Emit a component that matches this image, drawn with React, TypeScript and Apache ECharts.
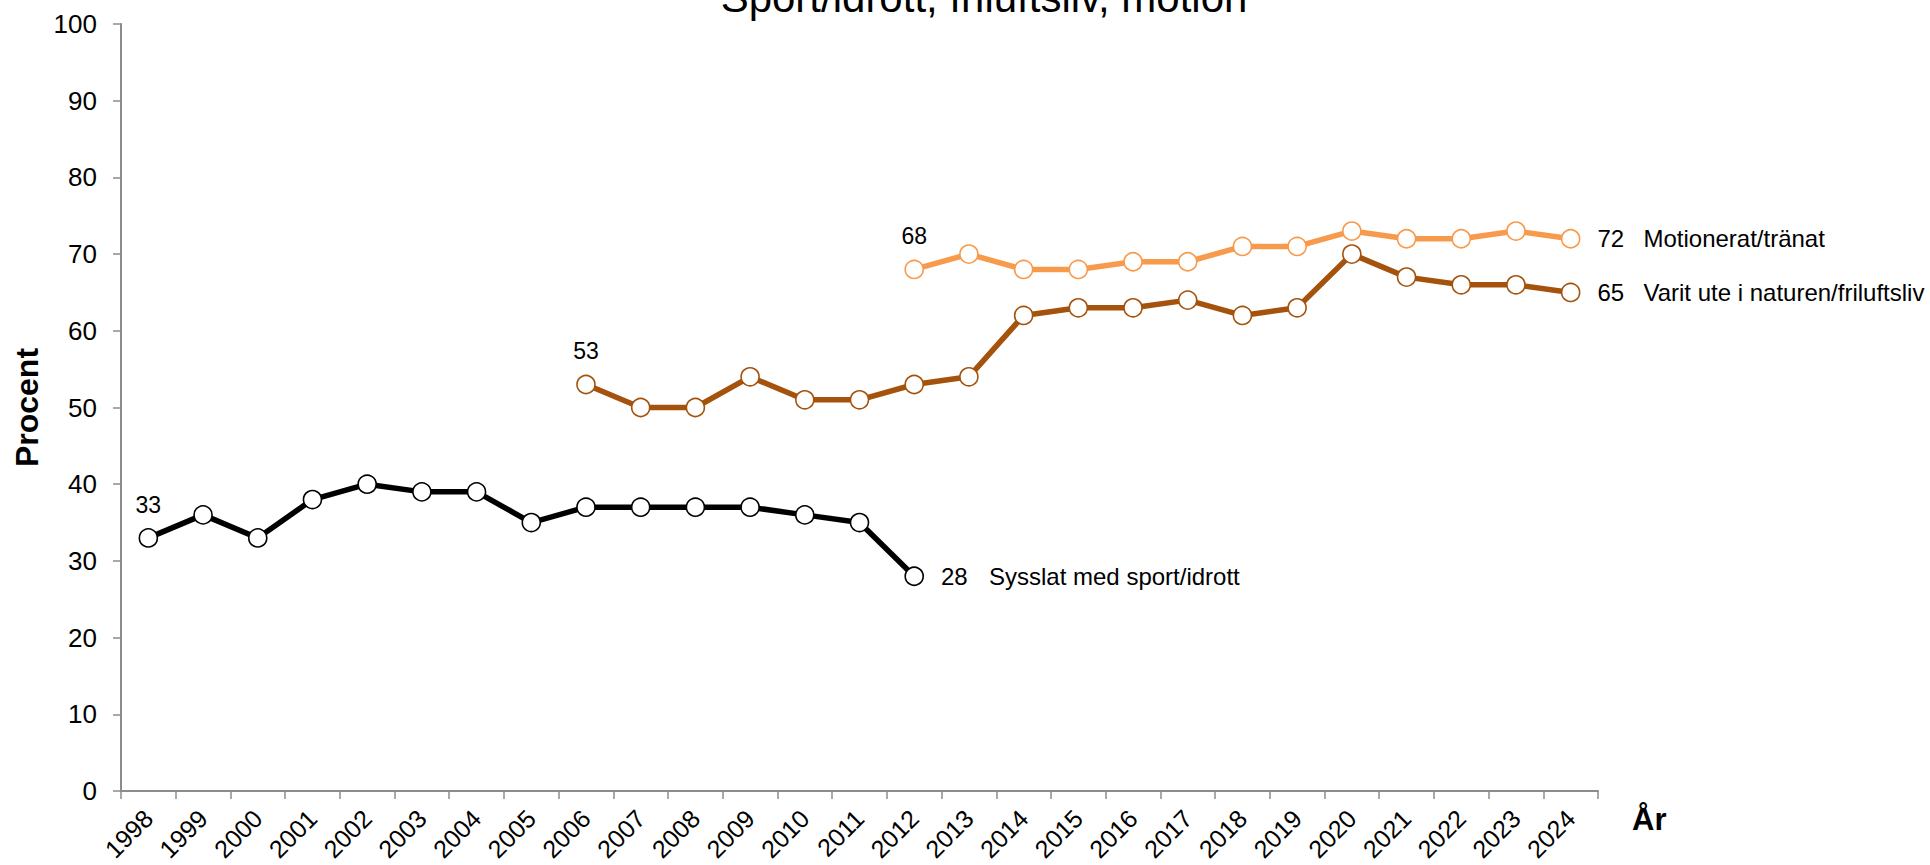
import React, { useEffect, useRef } from "react";
import * as echarts from "echarts";

const years = ["1998","1999","2000","2001","2002","2003","2004","2005","2006","2007","2008","2009","2010","2011","2012","2013","2014","2015","2016","2017","2018","2019","2020","2021","2022","2023","2024"];
const sportValues = [33, 36, 33, 38, 40, 39, 39, 35, 37, 37, 37, 37, 36, 35, 28];
const naturValues = [53, 50, 50, 54, 51, 51, 53, 54, 62, 63, 63, 64, 62, 63, 70, 67, 66, 66, 65];
const motionValues = [68, 70, 68, 68, 69, 69, 71, 71, 73, 72, 72, 73, 72];
const yTicks = [0, 10, 20, 30, 40, 50, 60, 70, 80, 90, 100];

const seriesNames = ["Sysslat med sport/idrott", "Varit ute i naturen/friluftsliv", "Motionerat/tränat"];
const seriesStart = [1998, 2006, 2012];
const seriesColors = ["#000000", "#A5520C", "#F89A4B"];
const valueBoxWidth = [48, 46, 46];

function padData(start: number, vals: number[]) {
  const offset = years.indexOf(String(start));
  return years.map((_, i) => (i >= offset && i - offset < vals.length ? vals[i - offset] : null));
}

export default function App() {
  const ref = useRef<HTMLDivElement>(null);
  useEffect(() => {
    if (!ref.current) return;
    const chart = echarts.init(ref.current, null, { renderer: "svg" });
    const all = [sportValues, naturValues, motionValues];
    const font = "Liberation Sans, Arial, sans-serif";
    const series = all.map((vals, si) => {
      const data = padData(seriesStart[si], vals);
      const firstIdx = years.indexOf(String(seriesStart[si]));
      const lastIdx = firstIdx + vals.length - 1;
      return {
        type: "line",
        name: seriesNames[si],
        data: data.map((v, i) => {
          if (v === null) return null;
          const item: any = { value: v };
          if (i === firstIdx) {
            item.label = { show: true, position: "top", distance: 12, formatter: "{c}" };
          } else if (i === lastIdx) {
            item.label = {
              show: true,
              position: "right",
              distance: 17,
              formatter: `{v|{c}}{n|${seriesNames[si]}}`,
              rich: {
                v: { width: valueBoxWidth[si], align: "left", fontSize: 24, color: "#000", fontFamily: font },
                n: { fontSize: 24, color: "#000", fontFamily: font },
              },
            };
          }
          return item;
        }),
        symbol: "circle",
        symbolSize: 18,
        showSymbol: true,
        connectNulls: false,
        lineStyle: { color: seriesColors[si], width: 5.5 },
        itemStyle: { color: "#ffffff", borderColor: seriesColors[si], borderWidth: 1.6 },
        label: { show: false, color: "#000", fontSize: 23, fontFamily: font },
        z: 3 + si,
      };
    });
    chart.setOption({
      animation: false,
      backgroundColor: "#ffffff",
      title: {
        text: "Sport/idrott, friluftsliv, motion",
        left: 979,
        textAlign: "center",
        top: -29,
        textStyle: { fontSize: 42, fontWeight: "normal", color: "#000", fontFamily: font },
      },
      grid: { left: 121, right: 332, top: 24, bottom: 74, containLabel: false },
      xAxis: {
        type: "category",
        data: years,
        boundaryGap: true,
        name: "År",
        nameLocation: "end",
        nameGap: 34,
        nameTextStyle: { fontSize: 31, fontWeight: "bold", color: "#000", fontFamily: font, verticalAlign: "top", padding: [13, 0, 0, 0] },
        axisLine: { lineStyle: { color: "#8c8c8c", width: 2 } },
        axisTick: { show: true, length: 8, lineStyle: { color: "#8c8c8c", width: 1.5 } },
        axisLabel: { rotate: 45, fontSize: 25, color: "#000", fontFamily: font, margin: 23, interval: 0 },
        splitLine: { show: false },
      },
      yAxis: {
        type: "value",
        min: yTicks[0],
        max: yTicks[yTicks.length - 1],
        interval: 10,
        name: "Procent",
        nameLocation: "middle",
        nameGap: 76,
        nameRotate: 90,
        nameTextStyle: { fontSize: 32, fontWeight: "bold", color: "#000", fontFamily: font },
        axisLine: { show: true, lineStyle: { color: "#8c8c8c", width: 2 } },
        axisTick: { show: true, length: 8, lineStyle: { color: "#8c8c8c", width: 1.5 } },
        axisLabel: { fontSize: 26, color: "#000", fontFamily: font, margin: 24 },
        splitLine: { show: false },
      },
      series,
    });
    return () => chart.dispose();
  }, []);
  return <div ref={ref} style={{ position: "fixed", left: 0, top: 0, width: 1930, height: 865 }} />;
}
